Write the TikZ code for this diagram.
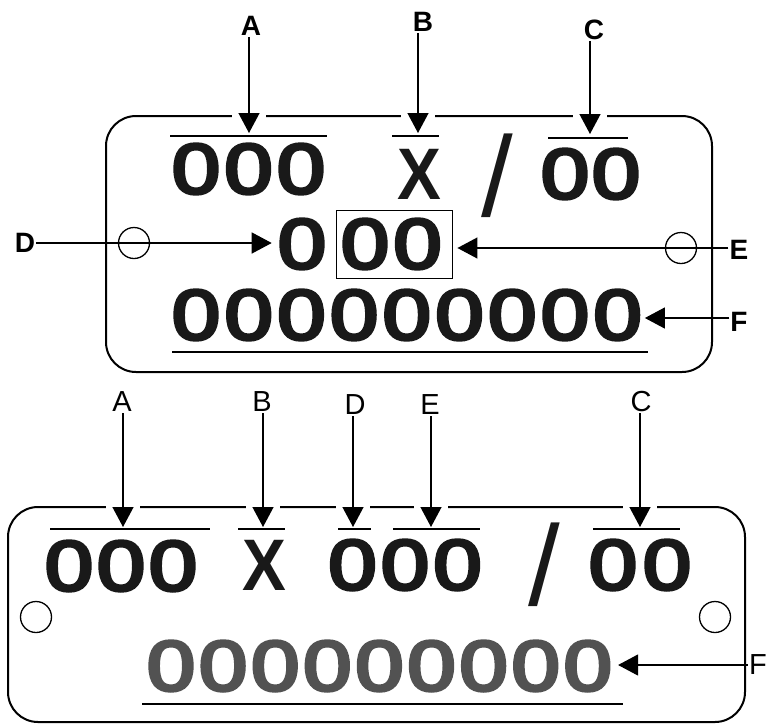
\documentclass[tikz,border=0pt]{standalone}
\usepackage{fontspec}
\setmainfont{Liberation Sans}
\newfontfamily\zfont[FakeBold=4.5]{Liberation Sans}
\usetikzlibrary{arrows.meta,calc}
\newcommand\dzero{\scalebox{1.22}[1]{0}}
\newcommand\dex{\scalebox{0.9}[1]{X}}
\begin{document}
\begin{tikzpicture}[x=1pt,y=-1pt,
  plate/.style={line width=2pt, rounded corners=30pt},
  dig/.style={font=\zfont\fontsize{71}{71}\selectfont, inner sep=0pt, anchor=center, text=black!90},
  xtxt/.style={font=\bfseries\fontsize{73}{73}\selectfont, inner sep=0pt, anchor=center, text=black!90},
  slashtxt/.style={font=\fontsize{114}{114}\selectfont, inner sep=0pt, anchor=center, text=black!90},
  lblb/.style={font=\bfseries\fontsize{28}{28}\selectfont, inner sep=1pt},
  lblr/.style={font=\fontsize{29}{29}\selectfont, inner sep=1pt},
  arr/.style={line width=1.3pt, -{Triangle[length=20pt,width=21pt]}},
  rule/.style={line width=1.5pt},
  hole/.style={circle, draw, line width=1.3pt, minimum size=31pt, inner sep=0pt},
  gap/.style={fill=white}
]
\fill[white] (0,0) rectangle (766,724);
\useasboundingbox (0,0) rectangle (766,724);

% ================= TOP PLATE =================
\draw[plate] (106,116) rectangle (712,372);

% row 1
\foreach \i in {1,...,3} \node[dig] (ta\i) at ({196+(\i-1)*52.5},169) {\dzero};
\node[xtxt] (tx) at (419,174) {\dex};
\node[slashtxt] (tsl) at (497,176) {/};
\foreach \i in {1,2} \node[dig] (tc\i) at ({565+(\i-1)*51},174) {\dzero};

% overlines
\draw[rule] (170,136) -- (327,136);
\draw[rule] (392,136) -- (439,136);
\draw[rule] (548,138) -- (628,138);

% row 2
\node[dig] (m0) at (302,244) {\dzero};
\foreach \i in {1,2} \node[dig] (mb\i) at ({365+(\i-1)*52.5},244) {\dzero};
\node[draw, line width=0.9pt, minimum width=116pt, minimum height=68pt, inner sep=0pt] (box) at (394,244) {};

% row 3
\foreach \i in {1,...,9} \node[dig] (tr\i) at ({196+(\i-1)*52.7},315) {\dzero};
\draw[rule] (172,352) -- (648,352);

% holes
\node[hole] (th1) at (134,243) {};
\node[hole] (th2) at (681,248) {};

% labels
\node[lblb] (tlA) at (251,26) {A};
\node[lblb] (tlB) at (423,22) {B};
\node[lblb] (tlC) at (594,30) {C};
\node[lblb] (tlD) at (25,243) {D};
\node[lblb] (tlE) at (739,250) {E};
\node[lblb] (tlF) at (739,322) {F};

\coordinate (ttA) at (249,133);
\coordinate (ttB) at (418,133);
\coordinate (ttC) at (590,134);
\fill[gap] (232,112) rectangle (266,121);
\fill[gap] (401,112) rectangle (435,121);
\fill[gap] (573,112) rectangle (607,121);
\draw[arr] (ttA |- tlA.south) -- (ttA);
\draw[arr] (ttB |- tlB.south) -- (ttB);
\draw[arr] (ttC |- tlC.south) -- (ttC);

\draw[arr, shorten >=6pt] (tlD.east) -- (tlD.east -| m0.west);
\draw[arr, shorten >=5pt] ($(tlE.west)+(0,-2)$) -- ($(tlE.west -| box.east)+(0,-2)$);
\draw[arr, shorten >=3pt] ($(tlF.west)+(0,-4)$) -- ($(tlF.west -| tr9.east)+(0,-4)$);

% ================= BOTTOM PLATE =================
\draw[plate] (8,507) rectangle (745,722);

\foreach \i in {1,...,3} \node[dig] (ba\i) at ({69+(\i-1)*52},566) {\dzero};
\node[xtxt] (bx) at (264,565) {\dex};
\foreach \i in {1,...,3} \node[dig] (bd\i) at ({352.5+(\i-1)*52.5},565) {\dzero};
\node[slashtxt] (bsl) at (544,565) {/};
\foreach \i in {1,2} \node[dig] (bc\i) at ({613+(\i-1)*54},565) {\dzero};

\draw[rule] (50,529) -- (210,529);
\draw[rule] (238,529) -- (285,529);
\draw[rule] (338,529) -- (371,529);
\draw[rule] (393,529) -- (480,529);
\draw[rule] (593,529) -- (680,529);

\foreach \i in {1,...,9} \node[dig, text=black!68] (br\i) at ({171+(\i-1)*52.1},666) {\dzero};
\draw[rule] (142,704) -- (623,704);

\node[hole] (bh1) at (36,617) {};
\node[hole] (bh2) at (715,617) {};

\node[lblr] (blA) at (122,402) {A};
\node[lblr] (blB) at (262,402) {B};
\node[lblr] (blD) at (355,405) {D};
\node[lblr] (blE) at (430,405) {E};
\node[lblr] (blC) at (641,402) {C};
\node[lblr] (blF) at (758,665) {F};

\coordinate (btA) at (123,527);
\coordinate (btB) at (263,527);
\coordinate (btD) at (353,527);
\coordinate (btE) at (431,527);
\coordinate (btC) at (640,527);
\foreach \c in {btA,btB,btD,btE,btC}
  \fill[gap] ($(\c)+(-17,-25)$) rectangle ($(\c)+(17,-15)$);
\draw[arr] (btA |- blA.south) -- (btA);
\draw[arr] (btB |- blB.south) -- (btB);
\draw[arr] (btD |- blD.south) -- (btD);
\draw[arr] (btE |- blE.south) -- (btE);
\draw[arr] (btC |- blC.south) -- (btC);

\draw[arr, shorten >=6pt] (blF.west) -- (blF.west -| br9.east);
\end{tikzpicture}
\end{document}
